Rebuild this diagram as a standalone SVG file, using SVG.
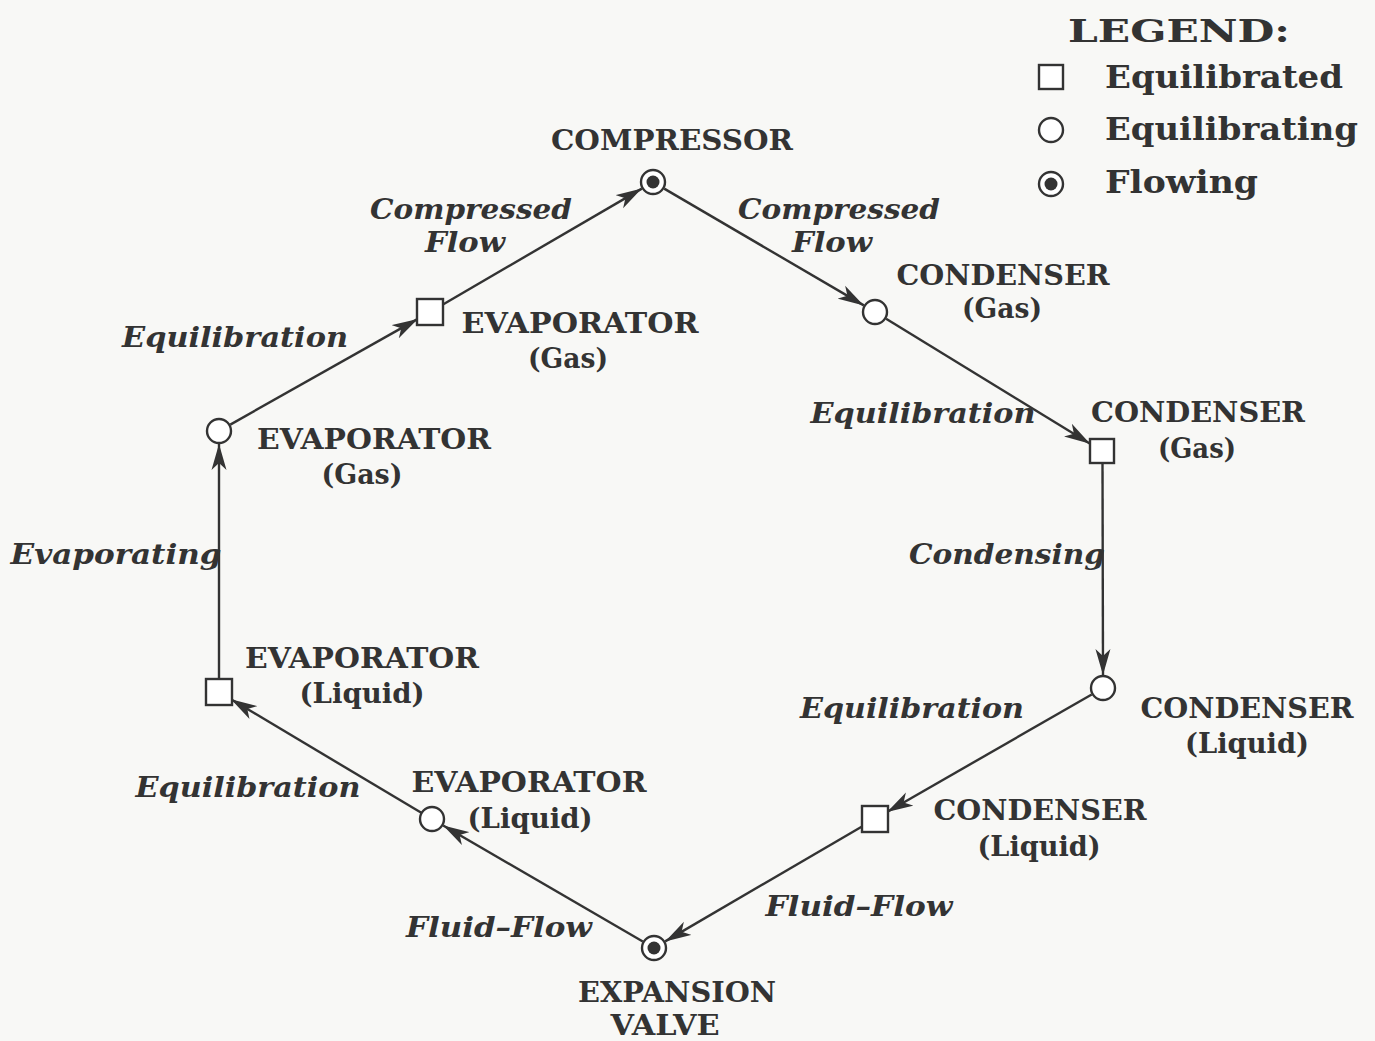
<svg xmlns="http://www.w3.org/2000/svg" width="1375" height="1041" viewBox="0 0 1375 1041">
<style>
.bg{fill:#f8f8f6}
.n{fill:#fff;stroke:#333;stroke-width:2.4}
.dot{fill:#333}
.e{stroke:#333;stroke-width:2.4;fill:none;marker-end:url(#ah)}
.t{font-family:"DejaVu Serif","Liberation Serif",serif;font-weight:bold;fill:#333;font-size:27px;text-anchor:middle}
.i{font-family:"DejaVu Serif","Liberation Serif",serif;font-weight:bold;font-style:italic;fill:#333;font-size:28px;text-anchor:middle}
.lg{font-family:"DejaVu Serif","Liberation Serif",serif;font-weight:bold;fill:#333;font-size:32px}
</style>
<defs>
<marker id="ah" markerUnits="userSpaceOnUse" markerWidth="28" markerHeight="16" refX="26" refY="8" orient="auto">
<path d="M0,0.5 L26,8 L0,15.5 L7,8 z" fill="#333"/>
</marker>
</defs>
<rect class="bg" x="0" y="0" width="1375" height="1041"/>

<g id="legend">
<text class="lg" x="1068" y="42" font-size="40" textLength="222" lengthAdjust="spacingAndGlyphs">LEGEND:</text>
<rect class="n" x="1039" y="65" width="24" height="24"/>
<text class="lg" x="1105" y="88" textLength="238" lengthAdjust="spacingAndGlyphs">Equilibrated</text>
<circle class="n" cx="1051" cy="130" r="12"/>
<text class="lg" x="1105" y="140" textLength="253" lengthAdjust="spacingAndGlyphs">Equilibrating</text>
<circle class="n" cx="1051" cy="184" r="12"/>
<circle class="dot" cx="1051" cy="184" r="6.5"/>
<text class="lg" x="1105" y="193" textLength="153" lengthAdjust="spacingAndGlyphs">Flowing</text>
</g>

<g id="connectors">
<line class="e" x1="442.1" y1="305.0" x2="641.8" y2="188.6"/>
<line class="e" x1="664.2" y1="188.6" x2="863.8" y2="305.4"/>
<line class="e" x1="886.1" y1="318.8" x2="1090.1" y2="443.7"/>
<line class="e" x1="1102.5" y1="463" x2="1103" y2="675"/>
<line class="e" x1="1091.7" y1="694.5" x2="887.1" y2="812.0"/>
<line class="e" x1="864.6" y1="825.0" x2="665.2" y2="941.4"/>
<line class="e" x1="642.8" y1="941.5" x2="443.2" y2="825.5"/>
<line class="e" x1="421.3" y1="812.8" x2="231.0" y2="699.2"/>
<line class="e" x1="219" y1="680" x2="219" y2="444"/>
<line class="e" x1="230.3" y1="424.6" x2="417.8" y2="318.9"/>
</g>

<g id="edge-labels">
<text class="i" x="471" y="219" textLength="202" lengthAdjust="spacingAndGlyphs">Compressed</text>
<text class="i" x="465" y="252" textLength="80" lengthAdjust="spacingAndGlyphs">Flow</text>
<text class="i" x="839" y="219" textLength="202" lengthAdjust="spacingAndGlyphs">Compressed</text>
<text class="i" x="832" y="252" textLength="80" lengthAdjust="spacingAndGlyphs">Flow</text>
<text class="i" x="235" y="347" textLength="226" lengthAdjust="spacingAndGlyphs">Equilibration</text>
<text class="i" x="923" y="423" textLength="225" lengthAdjust="spacingAndGlyphs">Equilibration</text>
<text class="i" x="116" y="564" textLength="211" lengthAdjust="spacingAndGlyphs">Evaporating</text>
<text class="i" x="1007" y="564" textLength="196" lengthAdjust="spacingAndGlyphs">Condensing</text>
<text class="i" x="912" y="718" textLength="224" lengthAdjust="spacingAndGlyphs">Equilibration</text>
<text class="i" x="248" y="797" textLength="225" lengthAdjust="spacingAndGlyphs">Equilibration</text>
<text class="i" x="859" y="916" textLength="187" lengthAdjust="spacingAndGlyphs">Fluid–Flow</text>
<text class="i" x="499" y="937" textLength="186" lengthAdjust="spacingAndGlyphs">Fluid–Flow</text>
</g>

<g id="compressor">
<circle class="n" cx="653" cy="182" r="12"/>
<circle class="dot" cx="653" cy="182" r="6.5"/>
<text class="t" x="672" y="150" textLength="242" lengthAdjust="spacingAndGlyphs">COMPRESSOR</text>
</g>
<g id="condenser-gas-1">
<circle class="n" cx="875" cy="312" r="12"/>
<text class="t" x="1003" y="285" textLength="213" lengthAdjust="spacingAndGlyphs">CONDENSER</text>
<text class="t" x="1002" y="318" textLength="80" lengthAdjust="spacingAndGlyphs">(Gas)</text>
</g>
<g id="condenser-gas-2">
<rect class="n" x="1090" y="439" width="24" height="24"/>
<text class="t" x="1198" y="422" textLength="214" lengthAdjust="spacingAndGlyphs">CONDENSER</text>
<text class="t" x="1197" y="458" textLength="78" lengthAdjust="spacingAndGlyphs">(Gas)</text>
</g>
<g id="condenser-liquid-1">
<circle class="n" cx="1103" cy="688" r="12"/>
<text class="t" x="1247" y="718" textLength="213" lengthAdjust="spacingAndGlyphs">CONDENSER</text>
<text class="t" x="1247" y="753" textLength="124" lengthAdjust="spacingAndGlyphs">(Liquid)</text>
</g>
<g id="condenser-liquid-2">
<rect class="n" x="862" y="806" width="26" height="26"/>
<text class="t" x="1040" y="820" textLength="213" lengthAdjust="spacingAndGlyphs">CONDENSER</text>
<text class="t" x="1039" y="856" textLength="123" lengthAdjust="spacingAndGlyphs">(Liquid)</text>
</g>
<g id="expansion-valve">
<circle class="n" cx="654" cy="948" r="12"/>
<circle class="dot" cx="654" cy="948" r="6.5"/>
<text class="t" x="677" y="1002" textLength="198" lengthAdjust="spacingAndGlyphs">EXPANSION</text>
<text class="t" x="665" y="1035" textLength="109" lengthAdjust="spacingAndGlyphs">VALVE</text>
</g>
<g id="evaporator-liquid-1">
<circle class="n" cx="432" cy="819" r="12"/>
<text class="t" x="529" y="792" textLength="235" lengthAdjust="spacingAndGlyphs">EVAPORATOR</text>
<text class="t" x="530" y="828" textLength="125" lengthAdjust="spacingAndGlyphs">(Liquid)</text>
</g>
<g id="evaporator-liquid-2">
<rect class="n" x="206" y="679" width="26" height="26"/>
<text class="t" x="362" y="668" textLength="234" lengthAdjust="spacingAndGlyphs">EVAPORATOR</text>
<text class="t" x="362" y="703" textLength="125" lengthAdjust="spacingAndGlyphs">(Liquid)</text>
</g>
<g id="evaporator-gas-1">
<circle class="n" cx="219" cy="431" r="12"/>
<text class="t" x="374" y="449" textLength="234" lengthAdjust="spacingAndGlyphs">EVAPORATOR</text>
<text class="t" x="362" y="484" textLength="81" lengthAdjust="spacingAndGlyphs">(Gas)</text>
</g>
<g id="evaporator-gas-2">
<rect class="n" x="417" y="299" width="26" height="26"/>
<text class="t" x="580" y="333" textLength="237" lengthAdjust="spacingAndGlyphs">EVAPORATOR</text>
<text class="t" x="568" y="368" textLength="80" lengthAdjust="spacingAndGlyphs">(Gas)</text>
</g>
</svg>
